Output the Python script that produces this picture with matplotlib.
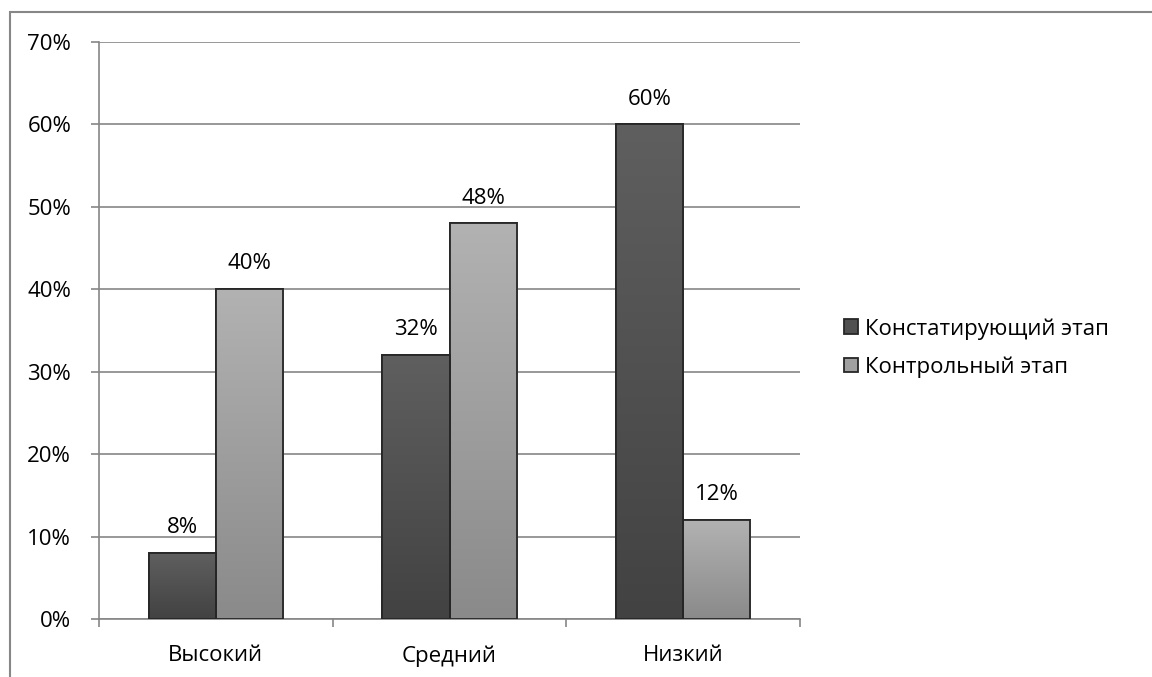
import matplotlib
matplotlib.use("Agg")
import matplotlib.pyplot as plt
import numpy as np
from matplotlib.patches import Rectangle
from matplotlib.colors import LinearSegmentedColormap

categories = ["Высокий", "Средний", "Низкий"]
series_names = ["Констатирующий этап", "Контрольный этап"]
konst = [8, 32, 60]
kontr = [40, 48, 12]
yticks = [0, 10, 20, 30, 40, 50, 60, 70]

plt.rcParams['font.family'] = ['Open Sans', 'DejaVu Sans']
FS = 16

fig = plt.figure(figsize=(11.52, 6.77), dpi=100)
ax = fig.add_axes([99/1152, 1 - 619/677, (800-99)/1152, (619-42)/677])

x = np.arange(len(categories))
w = 0.287
grads = [("#5f5f5f", "#424242"), ("#b2b2b2", "#8a8a8a")]
mids = ["#505050", "#a0a0a0"]

for i, (vals, name) in enumerate(zip([konst, kontr], series_names)):
    pos = x + (i - 0.5) * w
    bars = ax.bar(pos, vals, width=w, color=mids[i], edgecolor="#262626",
                  linewidth=1.3, label=name, zorder=3)
    cmap = LinearSegmentedColormap.from_list("g%d" % i, [grads[i][1], grads[i][0]])
    for b, v in zip(bars, vals):
        bx, by = b.get_x(), b.get_y()
        bw, bh = b.get_width(), b.get_height()
        grad = np.linspace(0, 1, 256).reshape(-1, 1)
        im = ax.imshow(grad, extent=[bx, bx + bw, by, by + bh], origin="lower",
                       aspect="auto", cmap=cmap, zorder=3.5)
        im.set_clip_path(b)
        edge = Rectangle((bx, by), bw, bh, fill=False, edgecolor="#262626",
                         linewidth=1.3, zorder=4)
        ax.add_patch(edge)
        ax.text(bx + bw / 2, v + 1.8, f"{v}%", ha="center", va="bottom",
                fontsize=FS, color="black", zorder=5)

ax.set_xlim(-0.5, 2.5)
ax.set_ylim(0, 70)
ax.set_yticks(yticks)
ax.set_yticklabels([f"{t}%" for t in yticks], fontsize=FS)
ax.set_xticks(x)
ax.set_xticklabels(categories, fontsize=FS)
ax.tick_params(axis="x", length=0, pad=19)
ax.tick_params(axis="y", length=6, color="#868686", width=1.2, pad=14)
# category boundary ticks
ax.set_xticks([-0.5, 0.5, 1.5, 2.5], minor=True)
ax.tick_params(axis="x", which="minor", length=6, color="#868686", width=1.2)

ax.grid(axis="y", color="#868686", linewidth=1.2, zorder=0)
ax.set_axisbelow(True)
for s in ["top", "right"]:
    ax.spines[s].set_visible(False)
ax.spines["left"].set_color("#868686")
ax.spines["left"].set_linewidth(1.2)
ax.spines["bottom"].set_color("#868686")
ax.spines["bottom"].set_linewidth(1.2)

leg = fig.legend(loc="center left", bbox_to_anchor=(824/1152, 1 - 348/677),
                 frameon=False, fontsize=FS, handlelength=0.65, handleheight=0.65,
                 handletextpad=0.3, labelspacing=0.75)

border = Rectangle((10/1152, -0.1), 1.2, (1 - 12/677) + 0.1,
                   transform=fig.transFigure, fill=False, edgecolor="#878787",
                   linewidth=1.5)
fig.patches.append(border)

fig.savefig("out.png", dpi=100)
